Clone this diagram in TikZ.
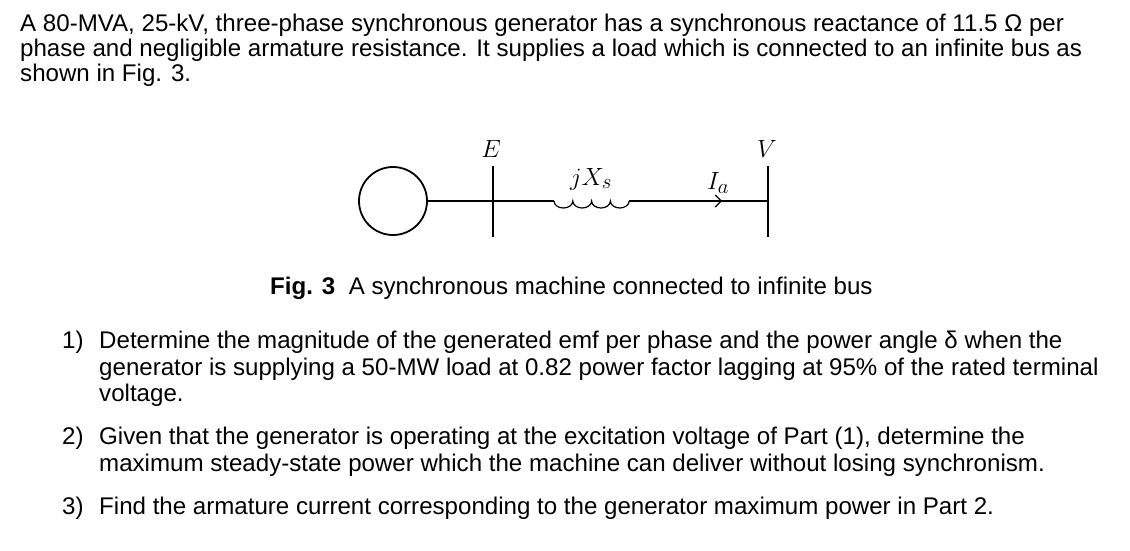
\documentclass[tikz,border=0pt]{standalone}
\usepackage{fontspec}
\setmainfont{Liberation Sans}
\usetikzlibrary{arrows.meta}
\begin{document}
\begin{tikzpicture}[x=1pt,y=-1pt,
  txt/.style={anchor=base west,inner sep=0pt,font=\fontsize{24.1}{28}\selectfont},
  lbl/.style={inner sep=0pt,font=\fontsize{29}{32}\selectfont},
  bus/.style={line width=2.2pt},
  wire/.style={line width=1.2pt}]
   \useasboundingbox (0,0) rectangle (1130,550);
   % problem statement
   \node [txt] (l1) at (20,31) {A 80-MVA, 25-kV, three-phase synchronous generator has a synchronous reactance of 11.5 Ω per};
   \node [txt] (l2) at (20,56) {phase and negligible armature resistance. It supplies a load which is connected to an infinite bus as};
   \node [txt] (l3) at (20,81) {shown in Fig. 3.};
   % circuit
   \node [circle,draw,line width=1.8pt,minimum size=68pt,inner sep=0pt] (gen) at (393,201) {};
   \coordinate (eb) at (493,201);
   \coordinate (vb) at (768,201);
   \coordinate (ls) at (554,201);
   \coordinate (le) at (629,201);
   \draw [bus] (493,166) -- (493,237);
   \draw [bus] (768,166) -- (768,237);
   \draw [wire] (gen.east) -- (ls);
   \draw [wire] (ls) arc (180:0:9.4 and 7) arc (180:0:9.4 and 7) arc (180:0:9.4 and 7) arc (180:0:9.4 and 7);
   \draw [wire] (le) -- (vb);
   \draw [wire,-{Straight Barb[length=6pt]}] (le) -- (722,201);
   \node [lbl] (E) at (491,149) {$E$};
   \node [lbl] (V) at (767,149) {$V$};
   \node [lbl] (X) at (591,179) {$jX_s$};
   \node [lbl] (I) at (718,183) {$I_a$};
   % caption
   \node [txt] (cap) at (270,294) {\textbf{Fig. 3}\ \ A synchronous machine connected to infinite bus};
   % questions
   \node [txt] (n1) at (62,348) {1)};
   \node [txt] (q1a) at (99,348) {Determine the magnitude of the generated emf per phase and the power angle δ when the};
   \node [txt] (q1b) at (99,375) {generator is supplying a 50-MW load at 0.82 power factor lagging at 95\% of the rated terminal};
   \node [txt] (q1c) at (99,401) {voltage.};
   \node [txt] (n2) at (62,444) {2)};
   \node [txt] (q2a) at (99,444) {Given that the generator is operating at the excitation voltage of Part (1), determine the};
   \node [txt] (q2b) at (99,471) {maximum steady-state power which the machine can deliver without losing synchronism.};
   \node [txt] (n3) at (62,514) {3)};
   \node [txt] (q3) at (99,514) {Find the armature current corresponding to the generator maximum power in Part 2.};
\end{tikzpicture}
\end{document}
